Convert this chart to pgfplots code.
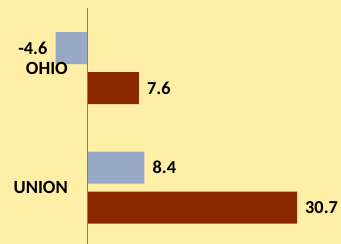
\documentclass[border=0pt]{standalone}
\usepackage{fontspec}
\setmainfont{Carlito}
\usepackage{pgfplots}
\pgfplotsset{compat=1.18}
\definecolor{bg}{HTML}{FFEEA5}
\definecolor{sblue}{HTML}{97AAC5}
\definecolor{sred}{HTML}{8B2800}
\begin{document}
\begin{tikzpicture}
\fill[bg] (0,0) rectangle (341pt,-244pt);
\begin{axis}[
  at={(0pt,-8.25pt)}, anchor=north west,
  scale only axis, width=341pt, height=239pt,
  xmin=-12.72, xmax=37.13, ymin=-0.5, ymax=1.5,
  xbar, bar width=32pt,
  axis x line=none, axis y line=center,
  axis on top,
  y axis line style={draw=gray, -, line width=0.8pt},
  ytick={0,1}, yticklabels={UNION,OHIO}, major tick length=0pt,
  yticklabel style={anchor=east, inner sep=0pt, xshift=-19pt, font=\bfseries\fontsize{18.6}{18.6}\selectfont},
  nodes near coords, nodes near coords align=horizontal,
  every node near coord/.append style={font=\bfseries\fontsize{18.3}{18.3}\selectfont, inner xsep=8pt, inner ysep=0pt, text=black},
  /pgf/number format/.cd, fixed, fixed zerofill, precision=1, assume math mode=true,
  /pgfplots/.cd,
  clip=false,
]
\addplot[fill=sblue, draw=none, bar shift=20pt] coordinates {(8.4,0) (-4.6,1)};
\addplot[fill=sred, draw=none, bar shift=-20pt] coordinates {(30.7,0) (7.6,1)};
\end{axis}
\pgfresetboundingbox
\useasboundingbox (0,0) rectangle (341pt,-244pt);
\end{tikzpicture}
\end{document}
